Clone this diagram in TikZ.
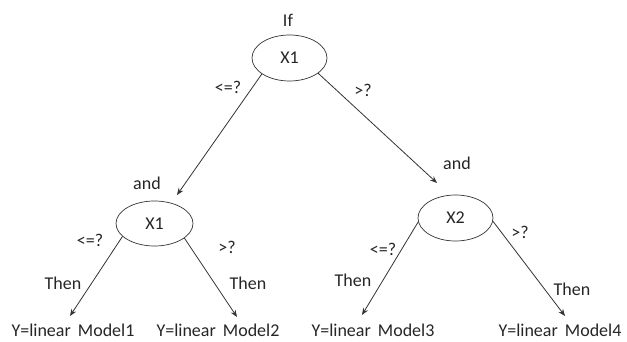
\documentclass[tikz,border=0pt]{standalone}
\usepackage{fontspec}
\setmainfont{Carlito}
\usetikzlibrary{shapes.geometric,arrows.meta}
\begin{document}
\begin{tikzpicture}[x=1pt,y=-1pt,
  every node/.style={font=\fontsize{18}{21}\selectfont, inner sep=0pt, text=black!85},
  decision/.style={ellipse, draw=black!80, line width=0.7pt, minimum width=75pt, minimum height=46pt},
  branch/.style={draw=black!80, line width=0.8pt, -{Stealth[length=7pt,width=5.5pt]}},
  lbl/.style={anchor=center},
  leaf/.style={anchor=base}]
\useasboundingbox (0,0) rectangle (627,342);
\fill[white] (0,0) rectangle (627,342);
% decision nodes
\node[decision] (e1) at (289.5,58) {X1};
\node[decision, minimum width=77pt, minimum height=45pt] (e2) at (154.5,223.5) {X1};
\node[decision] (e3) at (455.5,218) {X2};
% labels
\node[lbl] (tif) at (288,20) {If};
\node[lbl] (and1) at (147,183) {and};
\node[lbl] (and2) at (457,163) {and};
\node[lbl] (le1) at (228,87) {<=?};
\node[lbl] (gt1) at (363,90) {>?};
\node[lbl] (le2) at (90,240) {<=?};
\node[lbl] (gt2) at (227,247) {>?};
\node[lbl] (le3) at (383,249) {<=?};
\node[lbl] (gt3) at (520,232) {>?};
\node[lbl] (th1) at (63,283) {Then};
\node[lbl] (th2) at (248,283) {Then};
\node[lbl] (th3) at (353,280) {Then};
\node[lbl] (th4) at (572,289) {Then};
% leaves
\node[leaf] (m1) at (73,336.5) {Y=linear\, Model1};
\node[leaf] (m2) at (218,336.5) {Y=linear\, Model2};
\node[leaf] (m3) at (373,336.5) {Y=linear\, Model3};
\node[leaf] (m4) at (560,336.5) {Y=linear\, Model4};
% arrow tips
\coordinate (t2) at (177,195);
\coordinate (t3) at (437,183);
\coordinate (tm1) at (70,316);
\coordinate (tm2) at (237,317);
\coordinate (tm3) at (362,315);
\coordinate (tm4) at (565,316);
% connectors
\draw[branch] (e1.210) -- (t2);
\draw[branch] (e1.332) -- (t3);
\draw[branch] (e2.202) -- (tm1);
\draw[branch] (e2.334) -- (tm2);
\draw[branch] (e3.186) -- (tm3);
\draw[branch] (e3.355) -- (tm4);
\end{tikzpicture}
\end{document}
